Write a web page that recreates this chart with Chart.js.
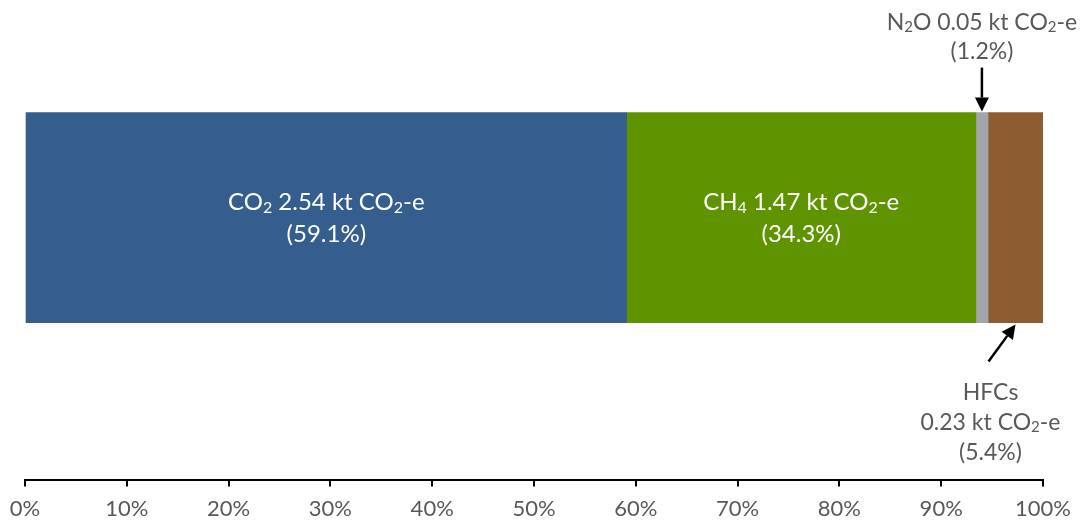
<!DOCTYPE html>
<html>
<head>
<meta charset="utf-8">
<script src="https://cdn.jsdelivr.net/npm/chart.js@4.4.0/dist/chart.umd.min.js"></script>
<style>
  html, body { margin: 0; padding: 0; background: #fff; }
  #wrap { width: 1080px; height: 524px; }
</style>
</head>
<body>
<div id="wrap"><canvas id="myChart"></canvas></div>
<script>
// data
const gases = ['CO2', 'CH4', 'N2O', 'HFCs'];
const shares = [59.1, 34.3, 1.2, 5.4];        // % of total
const amounts = ['2.54', '1.47', '0.05', '0.23']; // kt CO2-e
const tickLabels = ['0%', '10%', '20%', '30%', '40%', '50%', '60%', '70%', '80%', '90%', '100%'];
const colours = ['#355e8e', '#5f9400', '#a2a5aa', '#8e5c31'];
const barRow = 0.551; // where the single bar sits on the (hidden) y scale

const FONT = 'Lato, "Liberation Sans", sans-serif';
const GREY = '#595959';

// gas names with subscripts, as [text, isSubscript]
const nameParts = {
  CO2: [['CO', 0], ['2', 1]],
  CH4: [['CH', 0], ['4', 1]],
  N2O: [['N', 0], ['2', 1], ['O', 0]],
  HFCs: [['HFCs', 0]]
};
const unitParts = [[' kt CO', 0], ['2', 1], ['-e', 0]];

function drawRich(ctx, parts, cx, cy, size, colour) {
  const sub = Math.round(size * 0.66);
  let w = 0;
  parts.forEach(p => {
    ctx.font = (p[1] ? sub : size) + 'px ' + FONT;
    w += ctx.measureText(p[0]).width;
  });
  let x = cx - w / 2;
  ctx.fillStyle = colour;
  ctx.textBaseline = 'middle';
  ctx.textAlign = 'left';
  parts.forEach(p => {
    ctx.font = (p[1] ? sub : size) + 'px ' + FONT;
    ctx.fillText(p[0], x, p[1] ? cy + size * 0.2 : cy);
    x += ctx.measureText(p[0]).width;
  });
}

function arrow(ctx, x1, y1, x2, y2) {
  const a = Math.atan2(y2 - y1, x2 - x1);
  const hl = 14, hw = 7;
  ctx.save();
  ctx.strokeStyle = '#000';
  ctx.fillStyle = '#000';
  ctx.lineWidth = 2.5;
  ctx.beginPath();
  ctx.moveTo(x1, y1);
  ctx.lineTo(x2 - Math.cos(a) * hl, y2 - Math.sin(a) * hl);
  ctx.stroke();
  ctx.beginPath();
  ctx.moveTo(x2, y2);
  ctx.lineTo(x2 - Math.cos(a) * hl - Math.sin(a) * hw, y2 - Math.sin(a) * hl + Math.cos(a) * hw);
  ctx.lineTo(x2 - Math.cos(a) * hl + Math.sin(a) * hw, y2 - Math.sin(a) * hl - Math.cos(a) * hw);
  ctx.closePath();
  ctx.fill();
  ctx.restore();
}

const labelPlugin = {
  id: 'segLabels',
  afterDatasetsDraw(chart) {
    const ctx = chart.ctx;
    const size = 24, outSize = 23;
    ctx.save();
    gases.forEach((g, i) => {
      const el = chart.getDatasetMeta(i).data[0];
      const cx = (el.x + el.base) / 2;
      const top = el.y - el.height / 2;
      const bottom = el.y + el.height / 2;
      const line1 = nameParts[g].concat([[' ' + amounts[i], 0]], unitParts);
      const pct = [['(' + shares[i].toFixed(1) + '%)', 0]];
      if (i < 2) {
        drawRich(ctx, line1, cx, el.y - 15, size, '#fff');
        drawRich(ctx, pct, cx, el.y + 17, size, '#fff');
      } else if (g === 'N2O') {
        drawRich(ctx, line1, cx, top - 90, outSize, GREY);
        drawRich(ctx, pct, cx, top - 61, outSize, GREY);
        arrow(ctx, cx, top - 45, cx, top - 1);
      } else {
        const tx = cx - 25;
        drawRich(ctx, nameParts[g], tx, bottom + 70, outSize, GREY);
        drawRich(ctx, [[amounts[i], 0]].concat(unitParts), tx, bottom + 100, outSize, GREY);
        drawRich(ctx, pct, tx, bottom + 130, outSize, GREY);
        arrow(ctx, cx - 27, bottom + 39, cx, bottom + 2);
      }
    });
    ctx.restore();
  }
};

const datasets = gases.map((g, i) => ({
  label: g,
  data: [{ x: shares[i], y: barRow }],
  backgroundColor: colours[i],
  borderWidth: 0,
  barThickness: 210
}));

var ctx = document.getElementById('myChart').getContext('2d');
var chart = new Chart(ctx, {
  type: 'bar',
  data: { datasets: datasets },
  options: {
    indexAxis: 'y',
    responsive: true,
    maintainAspectRatio: false,
    animation: false,
    layout: { padding: { left: 25, right: 37, top: 0, bottom: -7 } },
    plugins: {
      legend: { display: false },
      tooltip: { enabled: false }
    },
    scales: {
      x: {
        stacked: true,
        min: 0,
        max: 100,
        ticks: {
          stepSize: 10,
          padding: 9,
          color: GREY,
          font: { family: FONT, size: 22 },
          callback: (v, idx) => tickLabels[idx]
        },
        grid: { drawOnChartArea: false, tickLength: 7, color: '#000', lineWidth: 2 },
        border: { color: '#000', width: 2 }
      },
      y: {
        type: 'linear',
        stacked: true,
        display: false,
        min: 0,
        max: 1
      }
    }
  },
  plugins: [labelPlugin]
});
</script>
</body>
</html>
